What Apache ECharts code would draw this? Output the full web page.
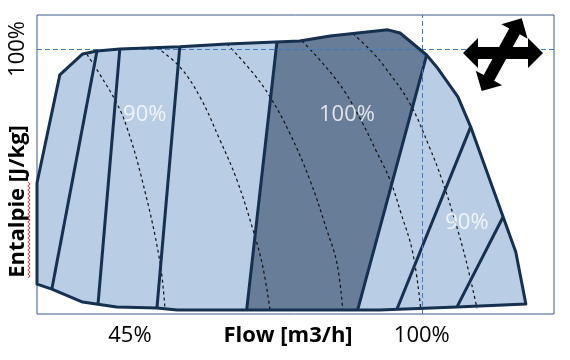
<!DOCTYPE html>
<html><head><meta charset="utf-8">
<script src="https://cdn.jsdelivr.net/npm/echarts@6/dist/echarts.min.js"></script>
<style>html,body{margin:0;padding:0;background:#fff}#c{width:570px;height:360px}</style>
</head><body><div id="c"></div>
<script>
// ---- data (flow %, enthalpy %) ----
const envelopeFlow = [27.5,27.5,31.8,36.1,38.8,43.1,54.4,63.3,77.0,82.7,93.6,95.9,100.9,102.8,106.8,109.2,117.7,119.6,106.6,92.1,53.9,50.1,42.5,36.1,30.3];
const envelopeEnth = [11.3,49.4,90.2,98.1,99.2,100.0,100.8,101.9,103.0,104.9,107.2,106.0,97.7,93.2,81.9,70.6,23.4,3.8,2.6,1.5,1.5,2.3,2.6,4.5,9.4];
const darkFlow = [72.7,77.0,82.7,93.6,95.9,100.9,87.9,67.0];
const darkEnth = [102.6,103.0,104.9,107.2,106.0,97.7,1.5,1.5];
const dividerLines = [
  [[38.8,99.2],[30.3,9.4]],
  [[43.1,100.0],[39.0,3.8]],
  [[54.4,100.8],[50.1,2.3]],
  [[72.7,102.6],[67.0,1.5]],
  [[100.9,97.7],[87.9,1.5]],
  [[109.2,70.6],[95.3,1.8]],
  [[115.3,36.6],[106.6,2.6]]
];
const speedCurve1 = [[36.9,98.0],[39.4,90.2],[42.5,79.6],[44.4,70.6],[47.3,50.6],[50.6,20.4],[51.6,2.0]];
const speedCurve2 = [[50.1,100.5],[54.4,93.2],[58.2,81.9],[61.95,65.7],[65.15,50.6],[68.2,31.7],[70.05,17.7],[71.4,1.5]];
const speedCurve3 = [[63.3,101.9],[68.2,90.9],[71.4,81.9],[75.1,68.3],[78.9,50.6],[82.1,31.7],[84.0,19.2],[85.1,1.5]];
const speedCurve4 = [[77.4,103.1],[82.1,92.8],[85.5,83.8],[88.7,72.5],[91.5,61.1],[94.0,50.6],[96.0,38.5],[98.3,23.0],[99.8,1.8]];
const speedCurve5 = [[87.0,105.8],[90.8,98.5],[93.0,93.2],[97.7,79.6],[101.5,62.6],[103.8,50.6],[106.2,35.5],[108.3,20.4],[110.4,2.1]];
const labelText = ['90%','100%','90%'];
const labelFlow = [47.8,85.9,108.5];
const labelEnth = [75.1,75.1,34.3];
const flowTicks = [45,100];
const enthTicks = [100];
const refFlow = 100, refEnth = 100;

// ---- styling ----
const FONT = '"Open Sans", "Noto Sans", sans-serif';
const LIGHT = '#b9cde5', DARK = '#687d97', NAVY = '#16304f', REF = '#3f78c4';

function polyRender(xs, ys, style) {
  return function (params, api) {
    const pts = xs.map((x, i) => api.coord([x, ys[i]]));
    return { type: 'polygon', shape: { points: pts }, style: style };
  };
}
function arrowPts(cx, cy, ang, half, sw, hw, hl) {
  const c = Math.cos(ang), s = Math.sin(ang), b = half - hl;
  const loc = [[half,0],[b,hw/2],[b,sw/2],[-b,sw/2],[-b,hw/2],[-half,0],[-b,-hw/2],[-b,-sw/2],[b,-sw/2],[b,-hw/2]];
  return loc.map(p => [cx + p[0]*c - p[1]*s, cy + p[0]*s + p[1]*c]);
}
const squiggle = [];
for (let i = 0, y = 182; y <= 278; i++, y += 2) squiggle.push([29 + (i % 2 ? 1.2 : -1.2), y]);

const series = [
  { type: 'custom', name: 'envelope', clip: false, z: 1, data: [[envelopeFlow[0], envelopeEnth[0]]],
    renderItem: polyRender(envelopeFlow, envelopeEnth, { fill: LIGHT, stroke: null }) },
  { type: 'custom', name: 'dark', clip: false, z: 2, data: [[darkFlow[0], darkEnth[0]]],
    renderItem: polyRender(darkFlow, darkEnth, { fill: DARK, stroke: null }) }
];
[speedCurve1, speedCurve2, speedCurve3, speedCurve4, speedCurve5].forEach(c => series.push({
  type: 'line', data: c, smooth: 0.4, symbol: 'none', z: 3, silent: true,
  lineStyle: { color: '#111', width: 1.2, type: [3, 3] }
}));
dividerLines.forEach(l => series.push({
  type: 'line', data: l, symbol: 'none', z: 4, silent: true,
  lineStyle: { color: NAVY, width: 3 }
}));
series.push({ type: 'custom', name: 'outline', clip: false, z: 5, data: [[envelopeFlow[0], envelopeEnth[0]]],
  renderItem: polyRender(envelopeFlow, envelopeEnth, { fill: null, stroke: NAVY, lineWidth: 3, lineJoin: 'round' }) });
series.push({
  type: 'scatter', z: 6, symbolSize: 0, silent: true,
  data: labelFlow.map((x, i) => [x, labelEnth[i], labelText[i]]),
  label: { show: true, position: 'inside', formatter: p => p.data[2], color: '#fff', fontSize: 22, fontFamily: FONT },
  markLine: { silent: true, symbol: 'none', label: { show: false },
    lineStyle: { color: REF, width: 1, type: [5, 3] },
    data: [{ xAxis: refFlow }, { yAxis: refEnth }] }
});

const chart = echarts.init(document.getElementById('c'), null, { renderer: 'canvas' });
chart.setOption({
  animation: false,
  grid: { left: 37, top: 15, width: 517, height: 299, containLabel: false, outerBoundsMode: 'none',
    show: true, borderColor: '#3b5a86', borderWidth: 1, backgroundColor: 'transparent' },
  xAxis: {
    type: 'value', min: 27.5, max: 124.9,
    splitLine: { show: false }, axisLine: { show: false }, axisTick: { show: false },
    axisLabel: { customValues: flowTicks, formatter: '{value}%', fontSize: 22, color: '#000', fontFamily: FONT, margin: 11 },
    name: 'Flow [m3/h]', nameLocation: 'middle', nameGap: 11, nameMoveOverlap: false,
    nameTextStyle: { fontSize: 22, fontWeight: 'bold', color: '#000', fontFamily: FONT, verticalAlign: 'top', padding: [0, 15, 0, 0] }
  },
  yAxis: {
    type: 'value', min: 0, max: 112.8,
    splitLine: { show: false }, axisLine: { show: false }, axisTick: { show: false },
    axisLabel: { customValues: enthTicks, formatter: '{value}%', rotate: 90, fontSize: 22, color: '#000', fontFamily: FONT, margin: 8 },
    name: 'Entalpie [J/kg]', nameLocation: 'middle', nameRotate: 90, nameGap: 8, nameMoveOverlap: false,
    nameTextStyle: { fontSize: 22, fontWeight: 'bold', color: '#000', fontFamily: FONT, verticalAlign: 'bottom', padding: [0, 74, 0, 0] }
  },
  graphic: [
    { type: 'polygon', z: 100, shape: { points: arrowPts(503, 53, 0, 40, 12, 30, 15) }, style: { fill: '#000' } },
    { type: 'polygon', z: 100, shape: { points: arrowPts(501.7, 54.7, Math.atan2(-72.7, 40), 41.5, 12, 30, 15) }, style: { fill: '#000' } },
    { type: 'polyline', z: 100, shape: { points: squiggle }, style: { stroke: '#e03030', lineWidth: 1, fill: null } }
  ],
  series: series
});
</script></body></html>
